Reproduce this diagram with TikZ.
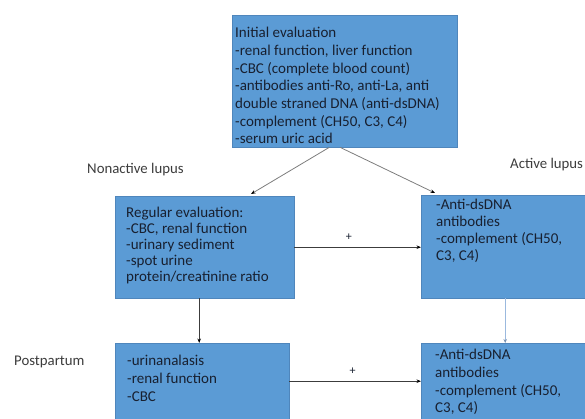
\documentclass[tikz,border=0pt]{standalone}
\usepackage{fontspec}
\setmainfont{Carlito}
\usetikzlibrary{arrows.meta}
\definecolor{boxfill}{HTML}{5B9BD5}
\definecolor{boxline}{HTML}{4F86BC}
\definecolor{boxtext}{RGB}{24,32,48}
\definecolor{labeltext}{RGB}{60,60,60}
\definecolor{linkgray}{RGB}{125,125,125}
\definecolor{linkblue}{RGB}{155,185,222}
\begin{document}
\begin{tikzpicture}[x=1pt,y=-1pt]
\tikzstyle{bluebox} = [draw=boxline,fill=boxfill,anchor=north west,inner sep=0pt] %cadres bleus
\tikzstyle{boxtxt} = [anchor=north west,inner sep=0pt,align=left,text=boxtext,font=\fontsize{15}{17.7}\selectfont]
\tikzstyle{sidetxt} = [anchor=west,inner sep=0pt,text=labeltext,font=\fontsize{14.8}{17}\selectfont]
\tikzstyle{link} = [draw=linkgray,line width=0.8pt,-{Stealth[length=4.5pt,width=3.5pt,black]}]
\useasboundingbox (0,0) rectangle (585,419);
\clip (0,0) rectangle (585,419);
%cadres
\node[bluebox,minimum width=225,minimum height=132] (init) at (232,15) {};
\node[bluebox,minimum width=179,minimum height=102] (regular) at (115,196) {};
\node[bluebox,minimum width=172,minimum height=103] (active) at (421,195) {};
\node[bluebox,minimum width=174,minimum height=76] (post) at (115,343) {};
\node[bluebox,minimum width=172,minimum height=76] (postactive) at (421,343) {};
%textes des cadres
\node[boxtxt] (inittxt) at ([shift={(3,12)}]init.north west) {Initial evaluation\\-renal function, liver function\\-CBC (complete blood count)\\-antibodies anti-Ro, anti-La, anti\\double straned DNA (anti-dsDNA)\\-complement (CH50, C3, C4)\\-serum uric acid};
\node[boxtxt,font=\fontsize{15}{16}\selectfont] (regulartxt) at ([shift={(11,10.5)}]regular.north west) {Regular evaluation:\\-CBC, renal function\\-urinary sediment\\-spot urine\\protein/creatinine ratio};
\node[boxtxt,font=\fontsize{15}{16.8}\selectfont] (activetxt) at ([shift={(15,4)}]active.north west) {-Anti-dsDNA\\antibodies\\-complement (CH50,\\C3, C4)};
\node[boxtxt] (posttxt) at ([shift={(12,12)}]post.north west) {-urinanalasis\\-renal function\\-CBC};
\node[boxtxt] (postactivetxt) at ([shift={(14,6)}]postactive.north west) {-Anti-dsDNA\\antibodies\\-complement (CH50,\\C3, C4)};
%etiquettes
\node[sidetxt] (nonactive) at (87,170) {Nonactive lupus};
\node[sidetxt] (activelbl) at (510,165) {Active lupus};
\node[sidetxt] (postlbl) at (14,362) {Postpartum};
%fleches
\draw[link] ([xshift=-15.5]init.south) -- ([shift={(136,-2)}]regular.north west);
\draw[link] ([xshift=-4.5]init.south) -- ([shift={(14,-2)}]active.north west);
\draw[link,draw=labeltext] (regular.east) -- node[pos=0.43,above=3pt,text=boxtext,font=\fontsize{12}{12}\selectfont]{+} (regular.east -| active.west);
\draw[link,draw=labeltext] ([xshift=-5.5]regular.south) -- ([xshift=-5.5]regular.south |- post.north);
\draw[link,draw=linkblue,-{Stealth[length=4pt,width=3.5pt,linkblue!80!black]}] ([xshift=-2]active.south) -- ([xshift=-2]active.south |- postactive.north);
\draw[link,draw=labeltext] (post.east) -- node[pos=0.48,above=3pt,text=boxtext,font=\fontsize{12}{12}\selectfont]{+} (post.east -| postactive.west);
\end{tikzpicture}
\end{document}
